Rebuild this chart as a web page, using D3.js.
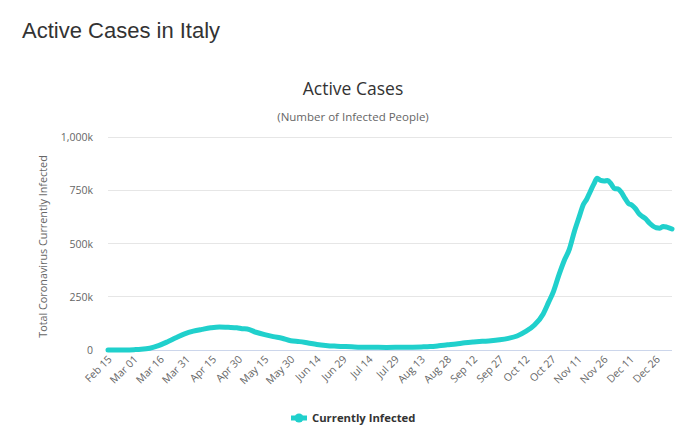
<!DOCTYPE html>
<html>
<head>
<meta charset="utf-8">
<script src="https://cdn.jsdelivr.net/npm/d3@7"></script>
<style>
  body { margin: 0; background: #fff; }
  svg { display: block; }
</style>
</head>
<body>
<div id="chart"></div>
<script>
// data
const dates = [
  "2020-02-15","2020-02-20","2020-02-25","2020-03-01","2020-03-05","2020-03-10",
  "2020-03-15","2020-03-20","2020-03-25","2020-03-30","2020-04-04","2020-04-09",
  "2020-04-14","2020-04-19","2020-04-24","2020-04-29","2020-05-02","2020-05-05",
  "2020-05-10","2020-05-15","2020-05-20","2020-05-25","2020-05-30","2020-06-04",
  "2020-06-09","2020-06-14","2020-06-19","2020-06-24","2020-06-29","2020-07-04",
  "2020-07-09","2020-07-14","2020-07-19","2020-07-24","2020-07-29","2020-08-03",
  "2020-08-08","2020-08-13","2020-08-18","2020-08-23","2020-08-28","2020-09-02",
  "2020-09-07","2020-09-12","2020-09-17","2020-09-22","2020-09-27","2020-10-02",
  "2020-10-07","2020-10-12","2020-10-17","2020-10-22","2020-10-25","2020-10-28",
  "2020-10-31","2020-11-03","2020-11-06","2020-11-09","2020-11-12","2020-11-14",
  "2020-11-16","2020-11-18","2020-11-20","2020-11-22","2020-11-24","2020-11-26",
  "2020-11-28","2020-11-30","2020-12-02","2020-12-04","2020-12-06","2020-12-08",
  "2020-12-10","2020-12-12","2020-12-14","2020-12-16","2020-12-18","2020-12-20",
  "2020-12-22","2020-12-24","2020-12-26","2020-12-28","2020-12-30","2021-01-01",
  "2021-01-04"
];
const activeCases = [
  3, 3, 311, 1577, 3296, 8514,
  20603, 37860, 57521, 75528, 88274, 96877,
  104291, 108257, 106527, 104657, 100179, 98467,
  83324, 72070, 62752, 55300, 43691, 39297,
  32872, 26274, 21543, 18303, 16496, 14884,
  13303, 12919, 12440, 12322, 12404, 12646,
  13179, 14406, 16014, 19714, 24205, 28499,
  33789, 37503, 40532, 43161, 47718, 54791,
  65952, 87193, 116935, 169302, 222241, 276457,
  351386, 418142, 472348, 558636, 633225, 682308,
  707757, 743168, 777176, 805947, 796024, 793341,
  795771, 779945, 758000, 756000, 739000, 712000,
  688000, 680000, 664000, 640000, 627000, 615000,
  596000, 582000, 574000, 572000, 580000, 577000,
  568000
];
const tickDates = [
  "2020-02-15","2020-03-01","2020-03-16","2020-03-31","2020-04-15","2020-04-30",
  "2020-05-15","2020-05-30","2020-06-14","2020-06-29","2020-07-14","2020-07-29",
  "2020-08-13","2020-08-28","2020-09-12","2020-09-27","2020-10-12","2020-10-27",
  "2020-11-11","2020-11-26","2020-12-11","2020-12-26"
];
const yTicks = [0, 250000, 500000, 750000, 1000000];
const seriesName = "Currently Infected";

const width = 700, height = 445;
const plotLeft = 108, plotRight = 672, plotTop = 137, plotBottom = 350;
const color = "#20d0cc";
const font = "'Open Sans', 'Noto Sans', sans-serif";

const parse = d3.utcParse("%Y-%m-%d");
const data = dates.map((d, i) => ({ date: parse(d), value: activeCases[i] }));

const svg = d3.select("#chart")
  .append("svg")
  .attr("width", width)
  .attr("height", height);

// page heading
svg.append("text")
  .attr("x", 22).attr("y", 38)
  .attr("font-family", "'Liberation Sans', Arial, sans-serif")
  .attr("font-size", "22px")
  .attr("fill", "#333")
  .text("Active Cases in Italy");

// chart title + subtitle
svg.append("text")
  .attr("x", 353).attr("y", 95)
  .attr("text-anchor", "middle")
  .attr("font-family", font)
  .attr("font-size", "17.5px")
  .attr("fill", "#333")
  .text("Active Cases");

svg.append("text")
  .attr("x", 353).attr("y", 121)
  .attr("text-anchor", "middle")
  .attr("font-family", font)
  .attr("font-size", "11.5px")
  .attr("fill", "#666")
  .text("(Number of Infected People)");

const x = d3.scaleUtc()
  .domain([parse("2020-02-15"), parse("2021-01-04")])
  .range([plotLeft, plotRight]);

const y = d3.scaleLinear()
  .domain([0, 1000000])
  .range([plotBottom, plotTop]);

// grid
svg.append("g")
  .selectAll("line")
  .data(yTicks)
  .join("line")
    .attr("x1", plotLeft).attr("x2", plotRight)
    .attr("y1", d => y(d)).attr("y2", d => y(d))
    .attr("stroke", d => d === 0 ? "#ccd6eb" : "#e6e6e6")
    .attr("stroke-width", 1)
    .attr("shape-rendering", "crispEdges");

// y axis labels
const yAxis = svg.append("g")
  .attr("transform", `translate(${plotLeft - 15},0)`)
  .call(d3.axisLeft(y).tickValues(yTicks).tickSize(0)
    .tickFormat(d => d === 0 ? "0" : d3.format(",")(d / 1000) + "k"));
yAxis.select(".domain").remove();
yAxis.selectAll("text")
  .attr("x", 0)
  .attr("dy", "0.35em")
  .attr("font-family", font)
  .attr("font-size", "10.5px")
  .attr("fill", "#666");

svg.append("text")
  .attr("transform", `translate(47,${(plotTop + plotBottom) / 2 + 3}) rotate(-90)`)
  .attr("text-anchor", "middle")
  .attr("font-family", font)
  .attr("font-size", "10.8px")
  .attr("fill", "#666")
  .text("Total Coronavirus Currently Infected");

// x axis labels
const xAxis = svg.append("g")
  .attr("transform", `translate(0,${plotBottom})`)
  .call(d3.axisBottom(x).tickValues(tickDates.map(parse)).tickSize(0)
    .tickFormat(d3.utcFormat("%b %d")));
xAxis.select(".domain").remove();
xAxis.selectAll("text")
  .attr("font-family", font)
  .attr("font-size", "10.5px")
  .attr("fill", "#666")
  .attr("text-anchor", "end")
  .attr("dy", null)
  .attr("y", 0)
  .attr("transform", "translate(4,10) rotate(-45)");

// the series
const line = d3.line()
  .x(d => x(d.date))
  .y(d => y(d.value))
  .curve(d3.curveMonotoneX);

svg.append("path")
  .datum(data)
  .attr("d", line)
  .attr("fill", "none")
  .attr("stroke", color)
  .attr("stroke-width", 5)
  .attr("stroke-linejoin", "round")
  .attr("stroke-linecap", "round");

// legend
const lg = svg.append("g").attr("transform", "translate(291,418)");
lg.append("line")
  .attr("x1", 0).attr("x2", 16)
  .attr("stroke", color).attr("stroke-width", 5);
lg.append("circle")
  .attr("cx", 8).attr("r", 4.5)
  .attr("fill", color);
lg.append("text")
  .attr("x", 21).attr("y", 4)
  .attr("font-family", font)
  .attr("font-size", "11.3px")
  .attr("font-weight", "bold")
  .attr("fill", "#333")
  .text(seriesName);
</script>
</body>
</html>
